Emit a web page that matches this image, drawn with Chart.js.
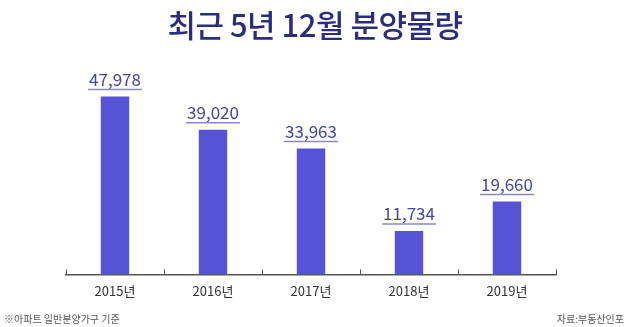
<!DOCTYPE html>
<html><head><meta charset="utf-8">
<script src="https://cdn.jsdelivr.net/npm/chart.js@4"></script>
<style>
html,body{margin:0;padding:0;background:#fff;}
#wrap{position:relative;width:630px;height:327px;}
#title{position:absolute;left:0;top:2px;width:630px;text-align:center;font-family:"Noto Sans CJK KR";font-weight:500;font-size:31px;color:#2b2d7a;line-height:44px;letter-spacing:-0.5px;}
.note{position:absolute;top:312px;font-family:"Noto Sans CJK KR";font-size:10px;color:#555;line-height:14px;}
canvas{position:absolute;left:0;top:0;}
</style></head>
<body><div id="wrap">
<canvas id="c" width="630" height="327"></canvas>
<div id="title">최근 5년 12월 분양물량</div>
<div class="note" style="left:4px">※아파트 일반분양가구 기준</div>
<div class="note" style="right:6px">자료:부동산인포</div>
</div>
<script>
const categories = ["2015년","2016년","2017년","2018년","2019년"];
const values = [47978, 39020, 33963, 11734, 19660];
const valueLabels = ["47,978","39,020","33,963","11,734","19,660"];

const labelPlugin = {
  id: 'labels',
  afterDatasetsDraw(chart){
    const ctx = chart.ctx;
    const meta = chart.getDatasetMeta(0);
    ctx.save();
    ctx.font = '400 17px "Noto Sans CJK KR"';
    ctx.textAlign = 'center';
    ctx.textBaseline = 'alphabetic';
    meta.data.forEach((bar, i) => {
      const x = bar.x, y = bar.y;
      ctx.fillStyle = '#45479a';
      ctx.fillText(valueLabels[i], x, y - 11);
      const w = ctx.measureText(valueLabels[i]).width;
      ctx.strokeStyle = '#8b89cc';
      ctx.lineWidth = 1.5;
      ctx.beginPath();
      ctx.moveTo(x - w/2 - 1, y - 7);
      ctx.lineTo(x + w/2 + 1, y - 7);
      ctx.stroke();
    });
    const xs = chart.scales.x;
    const bottom = chart.chartArea.bottom;
    const step = xs.getPixelForValue(1) - xs.getPixelForValue(0);
    ctx.strokeStyle = '#555';
    ctx.lineWidth = 1;
    for (let i = 0; i <= categories.length; i++) {
      const px = i < categories.length ? xs.getPixelForValue(i) - step/2 : xs.getPixelForValue(i-1) + step/2;
      ctx.beginPath();
      ctx.moveTo(Math.round(px)+0.5, bottom - 5);
      ctx.lineTo(Math.round(px)+0.5, bottom);
      ctx.stroke();
    }
    ctx.restore();
  }
};

new Chart(document.getElementById('c'), {
  type: 'bar',
  data: { labels: categories, datasets: [{ data: values, backgroundColor: '#5653d6', categoryPercentage: 1, barPercentage: 0.29 }] },
  options: {
    responsive: false, animation: false,
    layout: { padding: { left: 66, right: 74, top: 52, bottom: 19 } },
    plugins: { legend: { display: false }, tooltip: { enabled: false } },
    scales: {
      x: { offset: true, grid: { display: false, drawTicks: false }, border: { display: true, color: '#555', width: 1.5 },
           ticks: { padding: 9, color: '#333', font: { family: '"Noto Sans CJK KR"', size: 13 } } },
      y: { display: false, min: 0, max: 60000 }
    }
  },
  plugins: [labelPlugin]
});
</script>
</body></html>
